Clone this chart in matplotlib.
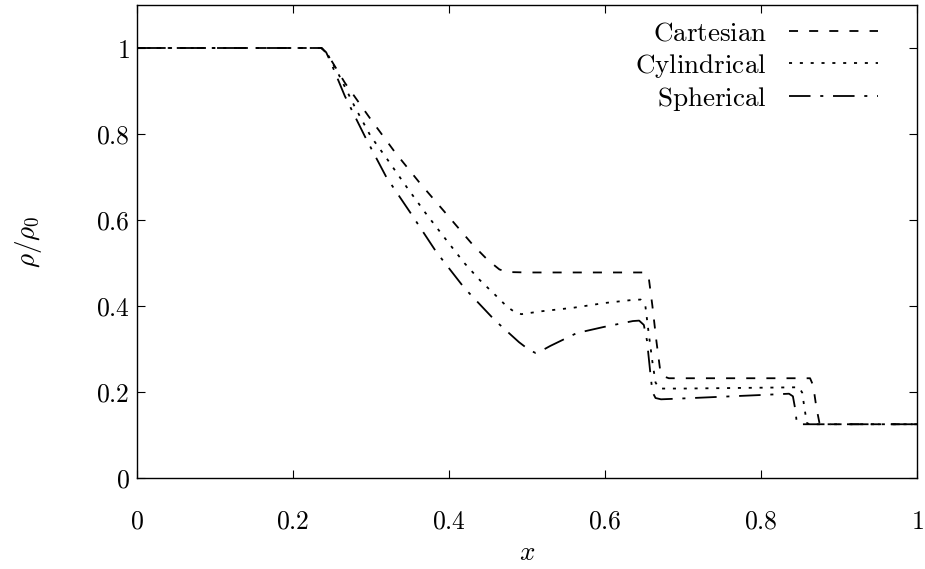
import matplotlib
matplotlib.use("Agg")
import matplotlib.pyplot as plt
from matplotlib.ticker import FixedLocator, FixedFormatter

plt.rcParams['mathtext.fontset'] = 'cm'
plt.rcParams['lines.scale_dashes'] = False

# ---- data ----
cart_x = [0.0, 0.237, 0.245, 0.267, 0.299, 0.331, 0.363, 0.398, 0.431, 0.450, 0.465,
          0.475, 0.50, 0.60, 0.650, 0.656, 0.661, 0.666, 0.671, 0.676, 0.682, 0.75,
          0.80, 0.863, 0.867, 0.871, 0.875, 0.879, 1.0]
cart_y = [1.0, 1.0, 0.985, 0.919, 0.837, 0.758, 0.686, 0.612, 0.542, 0.507, 0.485,
          0.479, 0.478, 0.478, 0.478, 0.470, 0.40, 0.32, 0.25, 0.236, 0.232, 0.232,
          0.232, 0.232, 0.215, 0.165, 0.128, 0.125, 0.125]

cyl_x = [0.0, 0.237, 0.245, 0.26, 0.28, 0.30, 0.321, 0.346, 0.37, 0.395, 0.42, 0.44,
         0.46, 0.475, 0.483, 0.493, 0.52, 0.56, 0.60, 0.635, 0.646, 0.652, 0.656,
         0.661, 0.665, 0.670, 0.70, 0.75, 0.80, 0.849, 0.853, 0.856, 0.859, 0.862, 1.0]
cyl_y = [1.0, 1.0, 0.985, 0.935, 0.862, 0.795, 0.742, 0.677, 0.617, 0.558, 0.500,
         0.460, 0.425, 0.398, 0.388, 0.381, 0.388, 0.396, 0.407, 0.414, 0.415, 0.40,
         0.34, 0.27, 0.222, 0.208, 0.208, 0.209, 0.210, 0.211, 0.198, 0.16, 0.128,
         0.125, 0.125]

sph_x = [0.0, 0.237, 0.243, 0.250, 0.267, 0.293, 0.320, 0.352, 0.384, 0.420, 0.459,
         0.490, 0.503, 0.511, 0.520, 0.530, 0.564, 0.598, 0.636, 0.644, 0.650,
         0.654, 0.658, 0.661, 0.665, 0.672, 0.70, 0.75, 0.80, 0.836, 0.841, 0.844,
         0.846, 0.849, 1.0]
sph_y = [1.0, 1.0, 0.99, 0.962, 0.888, 0.793, 0.700, 0.614, 0.526, 0.442, 0.367,
         0.316, 0.298, 0.291, 0.297, 0.307, 0.337, 0.351, 0.365, 0.366, 0.356,
         0.32, 0.25, 0.20, 0.186, 0.183, 0.185, 0.189, 0.193, 0.196, 0.19, 0.16,
         0.128, 0.125, 0.125]

labels = [r'$\mathrm{Cartesian}$', r'$\mathrm{Cylindrical}$', r'$\mathrm{Spherical}$']
xticks = [0, 0.2, 0.4, 0.6, 0.8, 1.0]
xticklabels = ['$0$', '$0.2$', '$0.4$', '$0.6$', '$0.8$', '$1$']
yticks = [0, 0.2, 0.4, 0.6, 0.8, 1.0]
yticklabels = ['$0$', '$0.2$', '$0.4$', '$0.6$', '$0.8$', '$1$']

FS = 19.5
TFS = 18.5

fig = plt.figure(figsize=(9.25, 5.69), dpi=100)
ax = fig.add_axes([136.5 / 925, (569 - 478) / 569, 780.5 / 925, 473 / 569])

lw = 1.3
ax.plot(cart_x, cart_y, color='black', lw=lw, ls=(0, (6.5, 8.0)), label=labels[0])
ax.plot(cyl_x, cyl_y, color='black', lw=lw, ls=(0, (2.2, 5.6)), label=labels[1])
ax.plot(sph_x, sph_y, color='black', lw=lw, ls=(0, (15.5, 7.0, 2.2, 7.0)), label=labels[2])

ax.set_xlim(0, 1)
ax.set_ylim(0, 1.1)
ax.xaxis.set_major_locator(FixedLocator(xticks))
ax.xaxis.set_major_formatter(FixedFormatter(xticklabels))
ax.yaxis.set_major_locator(FixedLocator(yticks))
ax.yaxis.set_major_formatter(FixedFormatter(yticklabels))
ax.tick_params(direction='in', length=6, width=0.8, top=True, right=True,
               labelsize=TFS)
ax.tick_params(axis='x', pad=22)
ax.tick_params(axis='y', pad=5)
for s in ax.spines.values():
    s.set_linewidth(1.0)

ax.set_xlabel(r'$x$', fontsize=FS, labelpad=4)
ax.set_ylabel(r'$\rho/\rho_0$', fontsize=FS, labelpad=37)

leg = ax.legend(loc='upper right', bbox_to_anchor=(0.95, 0.968), frameon=False,
                markerfirst=False, fontsize=FS, handlelength=3.3,
                handletextpad=0.8, labelspacing=0.2, borderpad=0,
                borderaxespad=0)

fig.savefig('out.png', dpi=100)
